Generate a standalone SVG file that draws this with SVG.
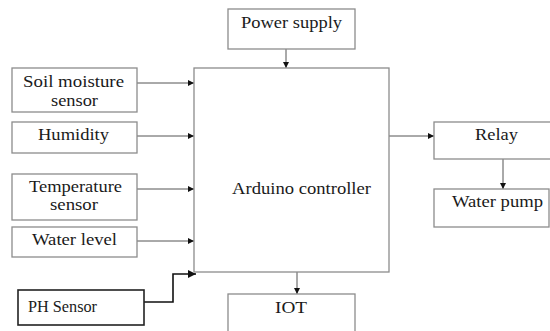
<svg xmlns="http://www.w3.org/2000/svg" width="550" height="331" viewBox="0 0 550 331">
<style>
.box{fill:#fff;stroke:#8c8c8c;stroke-width:1.3}
.dark{fill:#fff;stroke:#222;stroke-width:1.6}
.t{font-size:16px;fill:#1a1a1a}
.c{fill:none;stroke:#555;stroke-width:1}
.c2{fill:none;stroke:#111;stroke-width:1.6}
</style>
<defs>
<marker id="ah" viewBox="0 0 10 10" refX="10" refY="5" markerWidth="7" markerHeight="6" markerUnits="userSpaceOnUse" orient="auto">
<path d="M0,0 L10,5 L0,10 z" fill="#111"/>
</marker>
<marker id="ah2" viewBox="0 0 10 10" refX="10" refY="5" markerWidth="9" markerHeight="8" markerUnits="userSpaceOnUse" orient="auto">
<path d="M0,0 L10,5 L0,10 z" fill="#111"/>
</marker>
</defs>
<rect width="550" height="331" fill="#fff"/>
<g id="connectors">
<line class="c" x1="286" y1="49" x2="286" y2="68" marker-end="url(#ah)"/>
<line class="c" x1="137" y1="83" x2="194" y2="83" marker-end="url(#ah)"/>
<line class="c" x1="137" y1="136" x2="194" y2="136" marker-end="url(#ah)"/>
<line class="c" x1="137" y1="189" x2="194" y2="189" marker-end="url(#ah)"/>
<line class="c" x1="137" y1="241" x2="194" y2="241" marker-end="url(#ah)"/>
<polyline class="c2" points="144,302 173,302 173,274 196,274" marker-end="url(#ah2)"/>
<line class="c" x1="297" y1="272" x2="297" y2="294" marker-end="url(#ah)"/>
<line class="c" x1="389" y1="136" x2="434" y2="136" marker-end="url(#ah)"/>
<line class="c" x1="503" y1="159" x2="503" y2="189" marker-end="url(#ah)"/>
</g>
<g font-family="Liberation Serif, DejaVu Serif, serif">
<g id="power">
<rect class="box" x="228" y="9" width="127" height="40"/>
<text class="t" x="241" y="28" textLength="101" lengthAdjust="spacingAndGlyphs">Power supply</text>
</g>
<g id="arduino">
<rect class="box" x="194" y="68" width="195" height="204"/>
<text class="t" x="232" y="194" textLength="139" lengthAdjust="spacingAndGlyphs">Arduino controller</text>
</g>
<g id="soil">
<rect class="box" x="12" y="68" width="125" height="44"/>
<text class="t" x="23" y="87" textLength="101" lengthAdjust="spacingAndGlyphs">Soil moisture</text>
<text class="t" x="51" y="106" textLength="47" lengthAdjust="spacingAndGlyphs">sensor</text>
</g>
<g id="humidity">
<rect class="box" x="12" y="122" width="125" height="31"/>
<text class="t" x="38" y="140" textLength="71" lengthAdjust="spacingAndGlyphs">Humidity</text>
</g>
<g id="temperature">
<rect class="box" x="12" y="174" width="125" height="46"/>
<text class="t" x="29" y="192" textLength="93" lengthAdjust="spacingAndGlyphs">Temperature</text>
<text class="t" x="50" y="210" textLength="48" lengthAdjust="spacingAndGlyphs">sensor</text>
</g>
<g id="waterlevel">
<rect class="box" x="12" y="227" width="125" height="30"/>
<text class="t" x="32" y="245" textLength="85" lengthAdjust="spacingAndGlyphs">Water level</text>
</g>
<g id="ph">
<rect class="dark" x="18" y="290" width="126" height="35"/>
<text class="t" x="28" y="312" textLength="69" lengthAdjust="spacingAndGlyphs">PH Sensor</text>
</g>
<g id="iot">
<rect class="box" x="228" y="294" width="127" height="45"/>
<text class="t" x="275" y="313" textLength="32" lengthAdjust="spacingAndGlyphs">IOT</text>
</g>
<g id="relay">
<rect class="box" x="434" y="122" width="120" height="37"/>
<text class="t" x="475" y="140" textLength="43" lengthAdjust="spacingAndGlyphs">Relay</text>
</g>
<g id="waterpump">
<rect class="box" x="434" y="189" width="115" height="38"/>
<text class="t" x="452" y="207" textLength="91" lengthAdjust="spacingAndGlyphs">Water pump</text>
</g>
</g>
</svg>
